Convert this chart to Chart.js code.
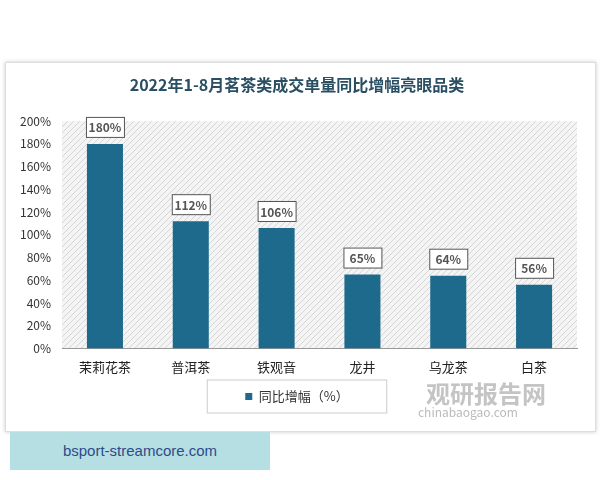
<!DOCTYPE html>
<html><head><meta charset="utf-8">
<script src="https://cdn.jsdelivr.net/npm/chart.js@4"></script>
<style>
body{margin:0;width:600px;height:480px;background:#fff;font-family:"Noto Sans CJK SC",sans-serif;position:relative;overflow:hidden}
#card{position:absolute;left:5px;top:62px;width:589px;height:368px;background:#fff;border:1px solid #ddd;box-shadow:0 0 4px #ccc}
#wm{position:absolute;left:372px;top:380px;color:#c4c4c4;font-weight:bold;font-size:24px;line-height:26px}
#wm span{margin-left:54px}
#wm small{display:block;font-size:12px;font-weight:normal;line-height:12px;color:#bbb;margin-left:46px}
#tag{position:absolute;left:10px;top:432px;width:260px;height:38px;background:#b5dfe3;color:#2f4a8a;font-family:"Liberation Sans",sans-serif;font-size:15px;line-height:38px;text-align:center}
</style></head><body>
<div id="card"><canvas id="c" width="589" height="368"></canvas></div>
<div id="wm"><span>观研报告网</span><small>chinabaogao.com</small></div>
<div id="tag">bsport-streamcore.com</div>
<script>
const categories=["茉莉花茶","普洱茶","铁观音","龙井","乌龙茶","白茶"];
const values=[180,112,106,65,64,56];
const yTicks=[0,20,40,60,80,100,120,140,160,180,200];
const seriesName="同比增幅（%）";
const color="#1e6a8c";
function hatch(){const p=document.createElement('canvas');p.width=6;p.height=6;const g=p.getContext('2d');g.fillStyle='#f4f4f4';g.fillRect(0,0,6,6);g.strokeStyle='#d6d6d6';g.lineWidth=1;g.beginPath();g.moveTo(0,6);g.lineTo(6,0);g.moveTo(-1,1);g.lineTo(1,-1);g.moveTo(5,7);g.lineTo(7,5);g.stroke();return p;}
const bgPlugin={id:'bg',beforeDraw(ch){const a=ch.chartArea,c=ch.ctx;c.save();c.fillStyle=c.createPattern(hatch(),'repeat');c.fillRect(a.left,a.top,a.right-a.left,a.bottom-a.top);c.restore();}};
const labelPlugin={id:'lbl',afterDatasetsDraw(ch){const c=ch.ctx;const m=ch.getDatasetMeta(0);c.save();c.font='bold 12px "Noto Sans CJK SC"';c.textAlign='center';c.textBaseline='middle';m.data.forEach((b,i)=>{const t=values[i]+'%';const w=38,h=20,x=b.x,y=b.y-17;c.fillStyle='#fff';c.fillRect(x-w/2,y-h/2,w,h);c.strokeStyle='#555';c.lineWidth=1;c.strokeRect(x-w/2+.5,y-h/2+.5,w,h);c.fillStyle='#555';c.fillText(t,x,y+1);});
const L=ch.legend;if(L&&L.legendHitBoxes.length){const hb=L.legendHitBoxes[0];c.strokeStyle='#ccc';c.strokeRect(hb.left-38,hb.top-10,hb.width+76,hb.height+20);}c.restore();}};
new Chart(document.getElementById('c'),{type:'bar',
data:{labels:categories,datasets:[{label:seriesName,data:values,backgroundColor:color,barPercentage:0.42,categoryPercentage:1}]},
options:{responsive:false,animation:false,
layout:{padding:{left:11,right:18,top:0,bottom:18}},
plugins:{title:{display:true,text:'2022年1-8月茗茶类成交单量同比增幅亮眼品类',color:'#2a4f63',font:{size:16,weight:'bold',family:'"Noto Sans CJK SC"'},padding:{top:12,bottom:27}},
legend:{position:'bottom',align:'center',labels:{boxWidth:7,boxHeight:7,color:'#333',font:{size:13,family:'"Noto Sans CJK SC"'},padding:12},
 onClick:null},tooltip:{enabled:false}},
scales:{x:{grid:{display:false},border:{color:'#999'},ticks:{color:'#222',font:{size:13,family:'"Noto Sans CJK SC"'}}},
y:{min:0,max:200,afterBuildTicks(ax){ax.ticks=yTicks.map(v=>({value:v}));},grid:{display:false},border:{display:false},ticks:{color:'#333',font:{size:12,family:'"Noto Sans CJK SC"'},callback:v=>v+'%'}}}},
plugins:[bgPlugin,labelPlugin]});
</script></body></html>
